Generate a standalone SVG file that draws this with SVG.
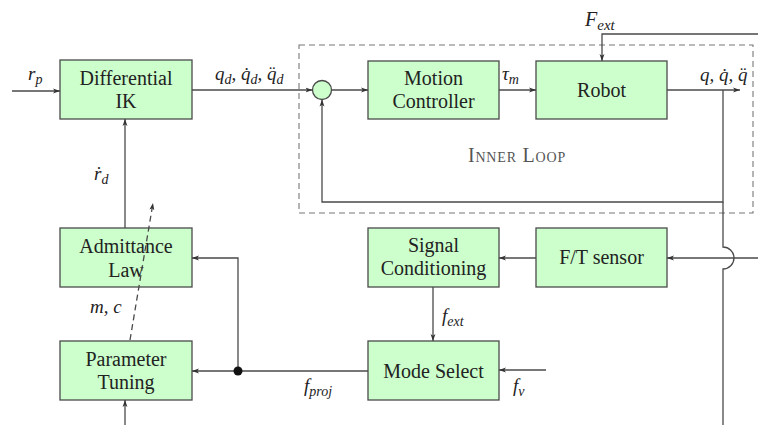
<svg xmlns="http://www.w3.org/2000/svg" width="758" height="425" viewBox="0 0 758 425">
<defs>
<style>
.box{fill:#ccffcc;stroke:#4a4a4a;stroke-width:1.3}
.ln{fill:none;stroke:#4a4a4a;stroke-width:1.3}
.t{font-family:"Liberation Serif","Times New Roman",serif;font-size:20px;fill:#222;text-anchor:middle}
.m{font-family:"Liberation Serif","Times New Roman",serif;font-size:19px;font-style:italic;fill:#222}
.s{font-size:14px}
</style>
<marker id="ah" viewBox="0 0 10 10" refX="10" refY="5" markerWidth="7" markerHeight="7" orient="auto" markerUnits="userSpaceOnUse">
<path d="M0,1.5 L10,5 L0,8.5 L2.5,5 Z" fill="#333"/>
</marker>
</defs>
<rect width="758" height="425" fill="#fff"/>

<g id="inner-loop">
<rect x="299" y="45" width="454" height="168" fill="none" stroke="#777" stroke-width="1.1" stroke-dasharray="6,4"/>
<text x="517" y="162" font-family="Liberation Serif, serif" font-size="20" fill="#555" text-anchor="middle" style="font-variant:small-caps;letter-spacing:0.8px">Inner Loop</text>
</g>

<g id="diff-ik" font-family="Liberation Serif, serif"><rect class="box" x="60" y="60" width="132" height="59"/><text class="t" x="126" y="85">Differential</text><text class="t" x="126" y="108">IK</text></g>
<g id="sum"><circle cx="322" cy="90" r="9.5" class="box"/></g>
<g id="motion-controller" font-family="Liberation Serif, serif"><rect class="box" x="368" y="61" width="131" height="58"/><text class="t" x="433.5" y="85">Motion</text><text class="t" x="433.5" y="108">Controller</text></g>
<g id="robot" font-family="Liberation Serif, serif"><rect class="box" x="536" y="61" width="131" height="58"/><text class="t" x="601.5" y="97">Robot</text></g>
<g id="admittance-law" font-family="Liberation Serif, serif"><rect class="box" x="60" y="228" width="132" height="59"/><text class="t" x="126" y="253">Admittance</text><text class="t" x="126" y="277">Law</text></g>
<g id="parameter-tuning" font-family="Liberation Serif, serif"><rect class="box" x="60" y="341" width="132" height="59"/><text class="t" x="126" y="366">Parameter</text><text class="t" x="126" y="389">Tuning</text></g>
<g id="signal-conditioning" font-family="Liberation Serif, serif"><rect class="box" x="368" y="228" width="131" height="59"/><text class="t" x="433.5" y="252">Signal</text><text class="t" x="433.5" y="275">Conditioning</text></g>
<g id="ft-sensor" font-family="Liberation Serif, serif"><rect class="box" x="536" y="228" width="131" height="59"/><text class="t" x="601.5" y="264">F/T sensor</text></g>
<g id="mode-select" font-family="Liberation Serif, serif"><rect class="box" x="368" y="341" width="131" height="59"/><text class="t" x="433.5" y="378">Mode Select</text></g>

<g id="connectors">
<path class="ln" d="M12,91 H60" marker-end="url(#ah)"/>
<path class="ln" d="M192,90 H312.5" marker-end="url(#ah)"/>
<path class="ln" d="M331.5,90 H368" marker-end="url(#ah)"/>
<path class="ln" d="M499,90 H536" marker-end="url(#ah)"/>
<path class="ln" d="M667,90 H740" marker-end="url(#ah)"/>
<path class="ln" d="M758,34 H602 V61" marker-end="url(#ah)"/>
<path class="ln" d="M723,90 V202 H322 V99.5" marker-end="url(#ah)"/>
<path class="ln" d="M723,202 V247 A11,11 0 0 1 723,269 V425"/>
<path class="ln" d="M758,258 H667" marker-end="url(#ah)"/>
<path class="ln" d="M536,258 H499" marker-end="url(#ah)"/>
<path class="ln" d="M433,287 V341" marker-end="url(#ah)"/>
<path class="ln" d="M546,370 H499" marker-end="url(#ah)"/>
<path class="ln" d="M368,371 H192" marker-end="url(#ah)"/>
<path class="ln" d="M238,371 V258 H192" marker-end="url(#ah)"/>
<circle cx="238" cy="371" r="4.5" fill="#111"/>
<path class="ln" d="M125,228 V119" marker-end="url(#ah)"/>
<path class="ln" d="M125,425 V400" marker-end="url(#ah)"/>
<path class="ln" d="M130,340 L153,203" stroke-dasharray="6,4" marker-end="url(#ah)"/>
</g>

<g id="labels" font-family="Liberation Serif, serif">
<text class="m" x="28" y="80">r<tspan class="s" dy="4">p</tspan></text>
<text class="m" x="215" y="80">q<tspan class="s" dy="4">d</tspan><tspan dy="-4">, q̇</tspan><tspan class="s" dy="4">d</tspan><tspan dy="-4">, q̈</tspan><tspan class="s" dy="4">d</tspan></text>
<text class="m" x="502" y="80">τ<tspan class="s" dy="4">m</tspan></text>
<text class="m" x="585" y="26" style="font-size:20px">F<tspan class="s" dy="4" style="font-size:15px">ext</tspan></text>
<text class="m" x="700" y="81">q, q̇, q̈</text>
<text class="m" x="94" y="180">ṙ<tspan class="s" dy="4">d</tspan></text>
<text class="m" x="90" y="313">m, c</text>
<text class="m" x="442" y="322">f<tspan class="s" dy="4">ext</tspan></text>
<text class="m" x="304" y="392">f<tspan class="s" dy="4">proj</tspan></text>
<text class="m" x="513" y="392">f<tspan class="s" dy="4">v</tspan></text>
</g>
</svg>
